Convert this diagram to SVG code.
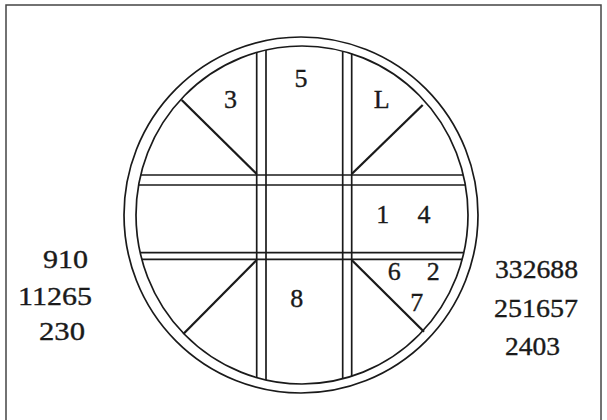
<svg xmlns="http://www.w3.org/2000/svg" width="607" height="420" viewBox="0 0 607 420">
<style>
.ln{stroke:#1a1a1a;stroke-width:1.7;fill:none}
.dg{stroke:#1a1a1a;stroke-width:2.3;fill:none}
.t{font-family:"Liberation Serif","Times New Roman",serif;font-size:26px;fill:#1a1a1a;stroke:#1a1a1a;stroke-width:0.35}
.n{font-family:"Liberation Serif","Times New Roman",serif;font-size:26px;fill:#1a1a1a;stroke:#1a1a1a;stroke-width:0.35}
</style>
<rect x="0" y="0" width="607" height="420" fill="#ffffff"/>
<rect id="frame" x="6" y="5" width="595" height="420" fill="none" stroke="#444" stroke-width="1.5"/>
<g id="rings">
<ellipse class="ln" cx="301" cy="215" rx="177" ry="178"/>
<ellipse class="ln" cx="302" cy="215" rx="166" ry="169"/>
</g>
<g id="bars">
<line class="ln" x1="256.7" y1="52.4" x2="256.7" y2="377.6"/>
<line class="ln" x1="266" y1="50" x2="266" y2="380"/>
<line class="ln" x1="342.7" y1="51.2" x2="342.7" y2="378.8"/>
<line class="ln" x1="351.7" y1="53.8" x2="351.7" y2="376.2"/>
<line class="ln" x1="140.7" y1="175" x2="463.3" y2="175"/>
<line class="ln" x1="138.7" y1="185" x2="465.3" y2="185"/>
<line class="ln" x1="140.2" y1="252.7" x2="463.8" y2="252.7"/>
<line class="ln" x1="141.8" y1="259.3" x2="462.2" y2="259.3"/>
</g>
<g id="diagonals">
<line class="dg" x1="256.7" y1="174" x2="181.7" y2="100"/>
<line class="dg" x1="351.7" y1="174" x2="422.7" y2="105"/>
<line class="dg" x1="256.7" y1="260" x2="183.3" y2="334"/>
<line class="dg" x1="351.7" y1="260" x2="424" y2="331.7"/>
</g>
<g id="labels" text-anchor="middle">
<text class="t" x="230.5" y="108">3</text>
<text class="t" x="301" y="87">5</text>
<text class="t" x="381.7" y="108">L</text>
<text class="t" x="382.7" y="223">1</text>
<text class="t" x="424" y="223">4</text>
<text class="t" x="394.3" y="280">6</text>
<text class="t" x="433.3" y="280">2</text>
<text class="t" x="416.7" y="311">7</text>
<text class="t" x="296.7" y="307">8</text>
</g>
<g id="left-values">
<text class="n" x="43" y="268" textLength="45" lengthAdjust="spacingAndGlyphs">910</text>
<text class="n" x="18" y="305" textLength="74" lengthAdjust="spacingAndGlyphs">11265</text>
<text class="n" x="39" y="340" textLength="46" lengthAdjust="spacingAndGlyphs">230</text>
</g>
<g id="right-values">
<text class="n" x="495" y="278" textLength="83" lengthAdjust="spacingAndGlyphs">332688</text>
<text class="n" x="494" y="317" textLength="84" lengthAdjust="spacingAndGlyphs">251657</text>
<text class="n" x="505" y="355" textLength="55" lengthAdjust="spacingAndGlyphs">2403</text>
</g>
</svg>
